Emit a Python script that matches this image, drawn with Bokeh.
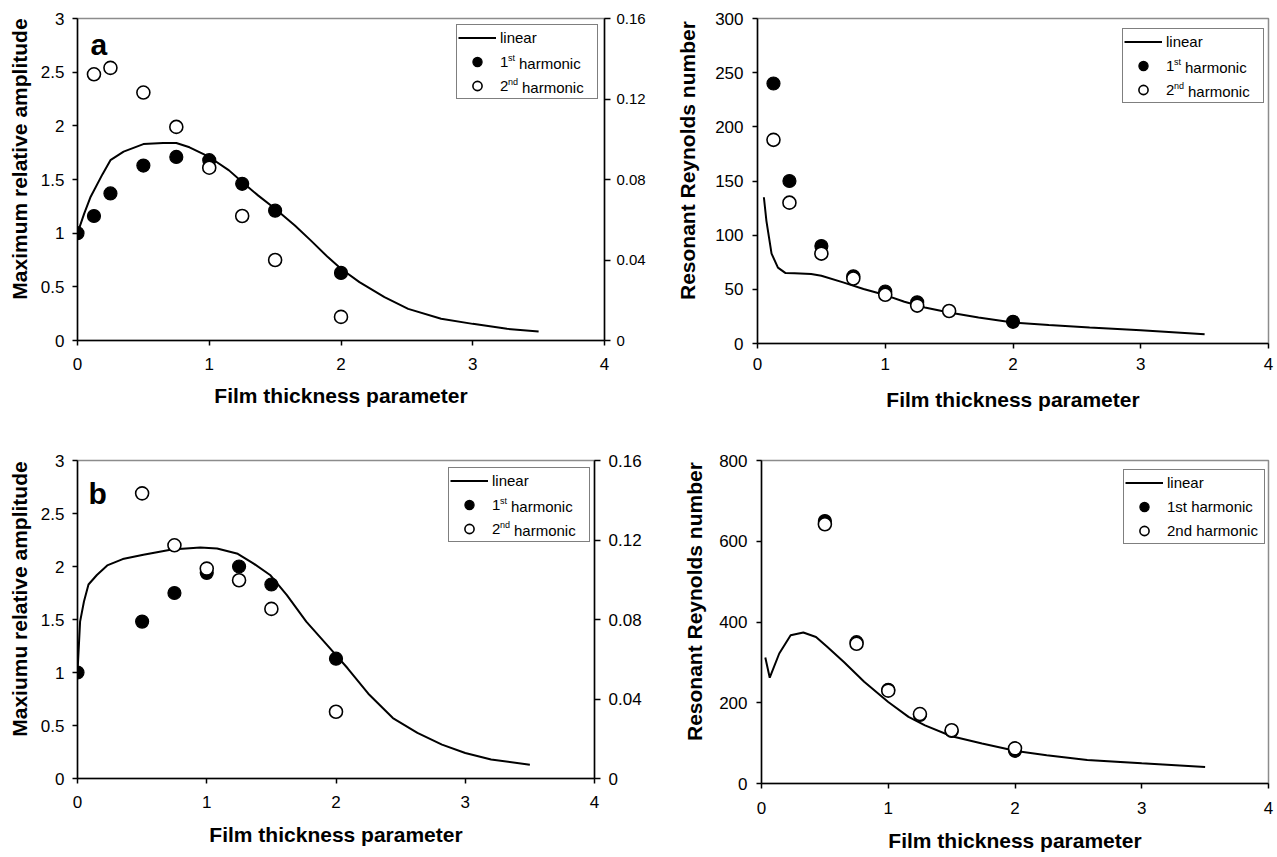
from bokeh.plotting import figure
from bokeh.models import (Range1d, LinearAxis, FixedTicker, NumeralTickFormatter,
                          Legend, LegendItem, Label)
from bokeh.layouts import row, column
from bokeh.embed import file_html
from bokeh.resources import INLINE

FONT = "Liberation Sans"
NBSP = "\u00a0"

x_ticks = [0, 1, 2, 3, 4]
amp_ticks = [0, 0.5, 1, 1.5, 2, 2.5, 3]
amp2_ticks = [0, 0.04, 0.08, 0.12, 0.16]
re1_ticks = [0, 50, 100, 150, 200, 250, 300]
re2_ticks = [0, 200, 400, 600, 800]

# ---- panel a : maximum relative amplitude ----
a_h1_x = [0, 0.125, 0.25, 0.5, 0.75, 1.0, 1.25, 1.5, 2.0]
a_h1_y = [1.0, 1.16, 1.37, 1.63, 1.71, 1.68, 1.46, 1.21, 0.63]
a_h2_x = [0.125, 0.25, 0.5, 0.75, 1.0, 1.25, 1.5, 2.0]
a_h2_y = [2.48, 2.54, 2.31, 1.99, 1.61, 1.16, 0.75, 0.22]
a_lin_x = [0, 0.05, 0.1, 0.19, 0.25, 0.35, 0.5, 0.65, 0.75, 0.85, 1.0, 1.15, 1.25,
           1.37, 1.5, 1.65, 1.77, 1.9, 2.0, 2.14, 2.33, 2.51, 2.76, 3.0, 3.26, 3.5]
a_lin_y = [1.0, 1.18, 1.34, 1.55, 1.68, 1.76, 1.83, 1.84, 1.84, 1.80, 1.71, 1.585, 1.476,
           1.352, 1.228, 1.072, 0.933, 0.777, 0.668, 0.544, 0.404, 0.295, 0.202, 0.155, 0.109, 0.084]

# ---- panel top right : resonant Reynolds number ----
r1_h1_x = [0.125, 0.25, 0.5, 0.75, 1.0, 1.25, 2.0]
r1_h1_y = [240, 150, 90, 62, 48, 38, 20]
r1_h2_x = [0.125, 0.25, 0.5, 0.75, 1.0, 1.25, 1.5]
r1_h2_y = [188, 130, 83, 60, 45, 35, 30]
r1_lin_x = [0.05, 0.07, 0.09, 0.11, 0.16, 0.22, 0.29, 0.42, 0.5, 0.67, 0.83, 1.0, 1.15,
            1.31, 1.5, 1.73, 2.0, 2.28, 2.6, 3.0, 3.5]
r1_lin_y = [135, 113, 98, 83, 70, 65, 64.8, 64.1, 62.6, 56.4, 50.3, 44.7, 38.5,
            33.3, 28.7, 24, 19.4, 17, 14.8, 12.3, 8.6]

# ---- panel b : maximum relative amplitude ----
b_h1_x = [0, 0.5, 0.75, 1.0, 1.25, 1.5, 2.0]
b_h1_y = [1.0, 1.48, 1.75, 1.94, 2.0, 1.83, 1.13]
b_h2_x = [0.5, 0.75, 1.0, 1.25, 1.5, 2.0]
b_h2_y = [2.69, 2.2, 1.98, 1.87, 1.6, 0.63]
b_lin_x = [0, 0.02, 0.05, 0.085, 0.15, 0.23, 0.35, 0.51, 0.73, 0.95, 1.08, 1.24, 1.36,
           1.49, 1.62, 1.77, 1.93, 2.09, 2.25, 2.44, 2.63, 2.82, 3.0, 3.2, 3.5]
b_lin_y = [1.0, 1.48, 1.67, 1.83, 1.92, 2.01, 2.07, 2.11, 2.16, 2.18, 2.17, 2.12, 2.03,
           1.92, 1.73, 1.48, 1.26, 1.04, 0.80, 0.57, 0.43, 0.32, 0.24, 0.18, 0.13]

# ---- panel bottom right : resonant Reynolds number ----
r2_h1_x = [0.5, 0.75, 1.0, 1.25, 1.5, 2.0]
r2_h1_y = [650, 350, 232, 170, 130, 81]
r2_h2_x = [0.5, 0.75, 1.0, 1.25, 1.5, 2.0]
r2_h2_y = [642, 346, 230, 172, 132, 87]
r2_lin_x = [0.03, 0.065, 0.14, 0.23, 0.33, 0.43, 0.52, 0.65, 0.81, 1.0, 1.16, 1.29,
            1.5, 1.74, 2.0, 2.25, 2.57, 3.0, 3.5]
r2_lin_y = [312, 262, 322, 367, 374, 363, 338, 301, 252, 202, 165, 144,
            117, 99, 81, 70, 58, 50, 41]

XLABEL = "Film thickness parameter"


def style_axis(ax, tick_out, standoff, size):
    ax.axis_line_color = "black"
    ax.axis_line_width = 1.5
    ax.major_tick_line_color = "black"
    ax.major_tick_line_width = 1.5
    ax.major_tick_out = tick_out
    ax.major_tick_in = 0
    ax.minor_tick_line_color = None
    ax.major_label_standoff = standoff
    ax.major_label_text_font = FONT
    ax.major_label_text_font_size = size
    ax.major_label_text_color = "black"
    ax.axis_label_text_font = FONT
    ax.axis_label_text_font_size = "21px"
    ax.axis_label_text_font_style = "bold"
    ax.axis_label_text_color = "black"


def make_fig(fw, fh, left, right, top, bottom, ymax, yticks, yfmt, ylabel,
             xstand, xlstand, ystand, ylstand):
    p = figure(frame_width=fw, frame_height=fh,
               min_border_left=left, min_border_right=right,
               min_border_top=top, min_border_bottom=bottom,
               x_range=Range1d(0, 4), y_range=Range1d(0, ymax),
               output_backend="svg", toolbar_location=None,
               background_fill_color="white", border_fill_color="white")
    p.grid.visible = False
    p.outline_line_color = "#8c8c8c"
    p.outline_line_width = 1.5
    xa = p.xaxis[0]
    xa.ticker = FixedTicker(ticks=x_ticks)
    xa.formatter = NumeralTickFormatter(format="0")
    xa.axis_label = XLABEL
    style_axis(xa, 5, xstand, "17px")
    xa.axis_label_standoff = xlstand
    ya = p.yaxis[0]
    ya.ticker = FixedTicker(ticks=yticks)
    ya.formatter = NumeralTickFormatter(format=yfmt)
    ya.axis_label = ylabel
    style_axis(ya, 5, ystand, "17px")
    ya.axis_label_standoff = ylstand
    return p


def add_right_axis(p, size, standoff):
    p.extra_y_ranges = {"right": Range1d(0, 0.16)}
    ax = LinearAxis(y_range_name="right", ticker=FixedTicker(ticks=amp2_ticks),
                    formatter=NumeralTickFormatter(format="0.[00]"))
    style_axis(ax, 6, standoff, size)
    p.add_layout(ax, "right")


def draw(p, lx, ly, h1x, h1y, h2x, h2y):
    rl = p.line(lx, ly, line_color="black", line_width=2)
    r1 = p.scatter(h1x, h1y, marker="circle", size=13, fill_color="black",
                   line_color="black", line_width=1.2)
    r2 = p.scatter(h2x, h2y, marker="circle", size=13, fill_color="white",
                   line_color="black", line_width=1.6)
    return rl, r1, r2


def add_legend(p, rends, labels, loc, bg_alpha=1.0):
    items = [LegendItem(label=lab, renderers=[r]) for lab, r in zip(labels, rends)]
    lg = Legend(items=items, location=loc, padding=1, spacing=1,
                glyph_width=38, glyph_height=23, label_height=23, label_width=96,
                label_standoff=4, border_line_color="black", border_line_width=1.5,
                background_fill_color="white", background_fill_alpha=bg_alpha,
                label_text_font=FONT, label_text_font_size="15px",
                label_text_color="black")
    p.add_layout(lg)
    return lg


def add_sup_labels(p, loc):
    # superscripts "st"/"nd" and the word "harmonic" next to legend labels "1"/"2"
    tx = loc[0] + 1 + 38 + 4
    top = loc[1] + 73
    rows = [top - 1 - 11.5 - i * 24 for i in range(3)]
    for i, sup, off in [(1, "st", 19.5), (2, "nd", 22.5)]:
        p.add_layout(Label(x=tx + 8.6, y=rows[i] + 5, x_units="screen", y_units="screen",
                           text=sup, text_font=FONT, text_font_size="9px",
                           text_baseline="middle", text_align="left", text_color="black"))
        p.add_layout(Label(x=tx + off, y=rows[i], x_units="screen", y_units="screen",
                           text="harmonic", text_font=FONT, text_font_size="15px",
                           text_baseline="middle", text_align="left", text_color="black"))


def add_letter(p, letter, x, y):
    p.add_layout(Label(x=x, y=y, x_units="screen", y_units="screen", text=letter,
                       text_font=FONT, text_font_size="30px", text_font_style="bold",
                       text_baseline="alphabetic", text_color="black"))


# ---------- panel a ----------
pa = make_fig(527, 322, 77, 45, 18, 72, 3, amp_ticks, "0.[0]",
              NBSP * 7 + "Maximum relative amplitude", 12, 11, 8, 7)
add_right_axis(pa, "15px", 6)
ra = draw(pa, a_lin_x, a_lin_y, a_h1_x, a_h1_y, a_h2_x, a_h2_y)
loc_a = (379, 241)
add_sup_labels(pa, loc_a)
add_legend(pa, ra, ["linear", "1", "2"], loc_a, 0.0)
add_letter(pa, "a", 13, 296)

# ---------- panel top right ----------
ptr = make_fig(511, 325, 108, 8, 15, 72, 300, re1_ticks, "0",
               NBSP * 7 + "Resonant Reynolds number", 9, 15, 9, 13)
rtr = draw(ptr, r1_lin_x, r1_lin_y, r1_h1_x, r1_h1_y, r1_h2_x, r1_h2_y)
loc_tr = (365, 240)
add_sup_labels(ptr, loc_tr)
add_legend(ptr, rtr, ["linear", "1", "2"], loc_tr, 0.0)

# ---------- panel b ----------
pb = make_fig(517, 318, 77, 55, 47, 79, 3, amp_ticks, "0.[0]",
              NBSP * 7 + "Maxiumu relative amplitude", 12, 12, 8, 7)
add_right_axis(pb, "17px", 8)
rb = draw(pb, b_lin_x, b_lin_y, b_h1_x, b_h1_y, b_h2_x, b_h2_y)
loc_b = (371, 236)
add_sup_labels(pb, loc_b)
add_legend(pb, rb, ["linear", "1", "2"], loc_b, 0.0)
add_letter(pb, "b", 11, 285)

# ---------- panel bottom right ----------
pbr = make_fig(507, 323, 112, 8, 48, 73, 800, re2_ticks, "0",
               NBSP * 7 + "Resonant Reynolds number", 13, 12, 9, 10)
rbr = draw(pbr, r2_lin_x, r2_lin_y, r2_h1_x, r2_h1_y, r2_h2_x, r2_h2_y)
add_legend(pbr, rbr, ["linear", "1st harmonic", "2nd harmonic"], (362, 239))

layout = column(row(pa, ptr), row(pb, pbr))

open("out.html", "w").write(file_html(layout, INLINE))
